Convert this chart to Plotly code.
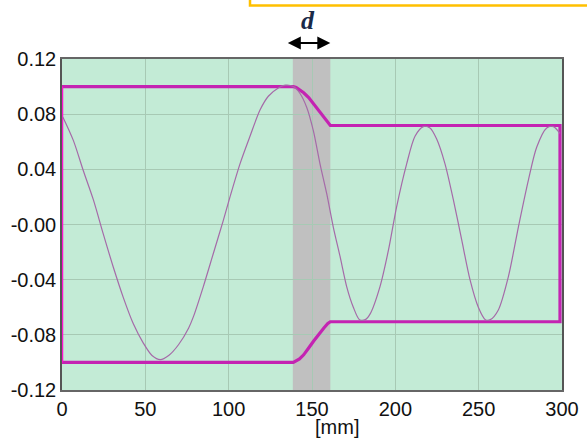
import plotly.graph_objects as go

# ---- data ----
sine_x = [0.5, 6.8, 12.8, 18.8, 24.8, 30.8, 36.8, 42.8, 48.8, 54, 59, 64, 70, 76, 78.8,
          84.8, 90.8, 96.8, 100.8, 106.8, 112.8, 118.8, 123.8, 129.8, 134, 138.8, 142.8,
          146.8, 150.8, 154.8, 158.8, 162.8, 166.8, 170.8, 174.8, 178.5, 182, 184.8, 190.8,
          195.8, 200.8, 206.8, 211.8, 216.8, 220.8, 224.8, 229.8, 234.8, 239.8, 244.8,
          249.8, 254, 257, 261.8, 267.8, 273.8, 279.8, 284.8, 290.8, 294.8, 298.8]
sine_y = [0.078, 0.061, 0.039, 0.018, -0.007, -0.031, -0.053, -0.072, -0.086, -0.095, -0.098,
          -0.095, -0.087, -0.075, -0.067, -0.045, -0.021, 0.003, 0.020, 0.044, 0.064, 0.083,
          0.093, 0.099, 0.101, 0.100, 0.095, 0.085, 0.068, 0.044, 0.0225, -0.002, -0.023,
          -0.045, -0.060, -0.069, -0.069, -0.065, -0.045, -0.019, 0.013, 0.044, 0.064, 0.071,
          0.070, 0.062, 0.044, 0.018, -0.011, -0.040, -0.060, -0.069, -0.069, -0.062, -0.038,
          -0.002, 0.032, 0.056, 0.070, 0.071, 0.066]

env_x = [0, 138.8, 140.5, 142.5, 145, 148, 151, 154, 157, 159.5, 161, 298.8]
env_upper = [0.100, 0.100, 0.0993, 0.0978, 0.0955, 0.092, 0.0875, 0.083, 0.0785, 0.0745, 0.0718, 0.0718]
env_lower = [-0.100, -0.100, -0.0990, -0.0975, -0.0945, -0.0895, -0.0845, -0.0795, -0.0752, -0.0718, -0.0705, -0.0705]

band_start, band_end = 138.5, 161.0

x_ticks = [0, 50, 100, 150, 200, 250, 300]
y_ticks = [0.12, 0.08, 0.04, 0.0, -0.04, -0.08, -0.12]
y_tick_text = ["0.12", "0.08", "0.04", "-0.00", "-0.04", "-0.08", "-0.12"]

ENV = "#C423B2"
LEFT = "#FF10D0"
SINE = "#A56AA8"

fig = go.Figure()

# envelope: upper, right edge, lower
path_x = env_x + env_x[::-1]
path_y = env_upper + env_lower[::-1]
fig.add_trace(go.Scatter(x=path_x, y=path_y, mode="lines",
                         line=dict(color=ENV, width=3.2), hoverinfo="skip"))
# left edge
fig.add_trace(go.Scatter(x=[env_x[0], env_x[0]], y=[env_upper[0], env_lower[0]], mode="lines",
                         line=dict(color=LEFT, width=2.5), hoverinfo="skip"))
# sine wave
fig.add_trace(go.Scatter(x=sine_x, y=sine_y, mode="lines",
                         line=dict(color=SINE, width=1.2, shape="spline", smoothing=0.8),
                         hoverinfo="skip"))

fig.add_shape(type="rect", xref="x", yref="paper", x0=band_start, x1=band_end, y0=0, y1=1,
              fillcolor="#C0C0C0", line=dict(width=0), layer="below")

# yellow box corner at top
fig.add_shape(type="path", xref="paper", yref="paper",
              path="M 0.376 1.19 L 0.376 1.1616 L 1.06 1.1616",
              line=dict(color="#FFC000", width=2.5))

# d with double arrow
fig.add_annotation(x=band_end, y=1.048, xref="x", yref="paper", ax=-44, ay=0,
                   text="", showarrow=True, arrowside="end+start", arrowhead=2,
                   startarrowhead=2, arrowwidth=2, arrowcolor="black", arrowsize=1.3,
                   startarrowsize=1.3)
fig.add_annotation(x=147.6, y=1.115, xref="x", yref="paper", text="<b><i>d</i></b>",
                   xanchor="center", yanchor="middle", showarrow=False,
                   font=dict(family="Liberation Serif", size=26, color="#1A2A48"))
fig.add_annotation(x=0.55, y=-0.112, xref="paper", yref="paper", text="[mm]",
                   xanchor="center", yanchor="middle", showarrow=False,
                   font=dict(family="Liberation Sans", size=20, color="#111"))

fig.update_layout(
    width=587, height=444,
    margin=dict(l=62, r=25, t=59, b=54),
    paper_bgcolor="white", plot_bgcolor="#C3EBD6",
    showlegend=False,
    font=dict(family="Liberation Sans", size=20, color="#111"),
)
fig.update_xaxes(range=[0, 300], tickvals=x_ticks, showgrid=True, gridcolor="#A7C9B4",
                 gridwidth=1, zeroline=False, showline=True, linecolor="#666", linewidth=1.5,
                 mirror=True, ticks="", tickfont=dict(size=20), automargin=False)
fig.update_yaxes(range=[-0.12, 0.12], tickvals=y_ticks, ticktext=y_tick_text, showgrid=True,
                 gridcolor="#A7C9B4", gridwidth=1, zeroline=False, showline=True,
                 linecolor="#555", linewidth=1.5, mirror=True, ticks="", tickfont=dict(size=20),
                 automargin=False)

fig.write_html("out.html", post_script="document.body.style.margin='0';",
               config={"displayModeBar": False})
